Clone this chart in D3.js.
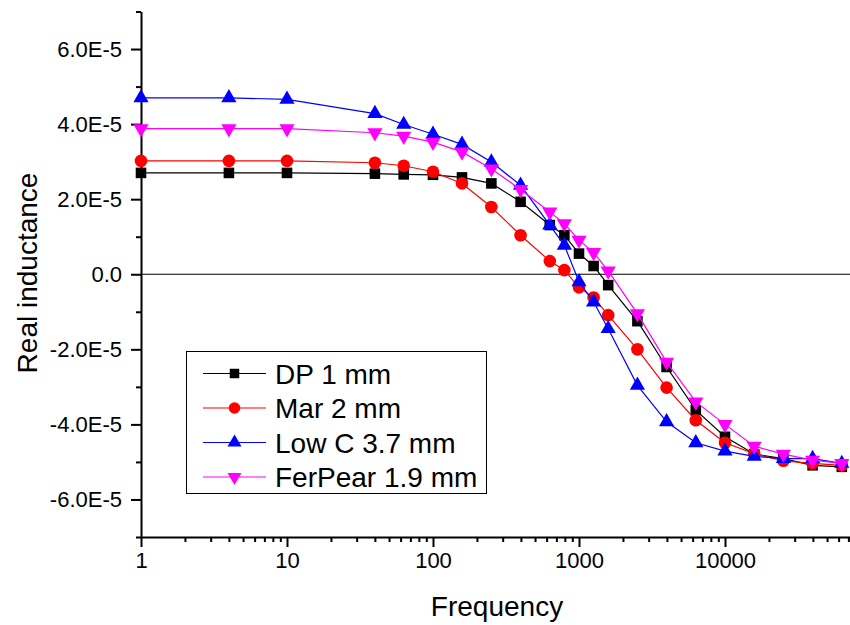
<!DOCTYPE html>
<html lang="en">

<head>
    <title>Real inductance vs frequency</title>
    <meta charset="UTF-8">
    <script src="https://d3js.org/d3.v7.min.js"></script>
    <style>
        body {
            margin: 0;
            padding: 0;
            background: #fff;
        }

        svg {
            display: block;
            font-family: Arial, 'Liberation Sans', sans-serif;
        }

        .axis path,
        .axis line {
            fill: none;
            stroke: #000;
            stroke-width: 2px;
        }

        .axis text {
            font-size: 22px;
            fill: #000;
        }

        .title {
            font-size: 28px;
        }

        .legend text {
            font-size: 28px;
        }
    </style>
</head>

<body>
    <svg id="chart" width="850" height="625"></svg>
    <script>
        // frequency of each measured point
        var freq = [1, 4, 10, 40, 63, 100, 158, 251, 398, 631, 794, 1000, 1259, 1585,
            2512, 3981, 6310, 10000, 15849, 25119, 39811, 63096];

        // real inductance, units of 1E-5
        var dp1 = [2.70, 2.70, 2.70, 2.68, 2.66, 2.65, 2.58, 2.42, 1.93, 1.31, 1.04, 0.55,
            0.22, -0.29, -1.25, -2.47, -3.62, -4.33, -4.79, -4.91, -5.09, -5.13];
        var mar2 = [3.02, 3.02, 3.02, 2.97, 2.89, 2.73, 2.42, 1.79, 1.04, 0.35, 0.11, -0.35,
            -0.62, -1.09, -2.00, -3.02, -3.89, -4.49, -4.78, -4.97, -5.04, -5.09];
        var lowC = [4.70, 4.70, 4.66, 4.28, 3.99, 3.73, 3.46, 2.99, 2.37, 1.31, 0.77, -0.20,
            -0.74, -1.45, -2.96, -3.93, -4.49, -4.71, -4.85, -4.91, -4.91, -5.04];
        var ferPear = [3.88, 3.88, 3.88, 3.77, 3.68, 3.52, 3.26, 2.81, 2.26, 1.66, 1.35, 0.91,
            0.58, 0.09, -1.05, -2.34, -3.40, -4.00, -4.58, -4.79, -4.95, -5.04];

        var seriesNames = ["DP 1 mm", "Mar 2 mm", "Low C 3.7 mm", "FerPear 1.9 mm"];
        var seriesValues = [dp1, mar2, lowC, ferPear];
        var seriesColors = ["#000000", "#ff0000", "#0000ff", "#ff00ff"];

        var xTicks = [1, 10, 100, 1000, 10000];
        var xTickLabels = ["1", "10", "100", "1000", "10000"];
        var yTicks = [-6e-5, -4e-5, -2e-5, 0, 2e-5, 4e-5, 6e-5];
        var yTickLabels = ["-6.0E-5", "-4.0E-5", "-2.0E-5", "0.0", "2.0E-5", "4.0E-5", "6.0E-5"];

        var svg = d3.select("#chart");

        var x = d3.scaleLog()
            .domain([1, 1e5])
            .range([141, 871]);

        var y = d3.scaleLinear()
            .domain([-7e-5, 7e-5])
            .range([537, 11.5]);

        var xMinor = [];
        for (var p = 1; p < 1e5; p *= 10) {
            for (var k = 2; k <= 9; k++) xMinor.push(k * p);
        }
        var yMinor = [-7e-5, -5e-5, -3e-5, -1e-5, 1e-5, 3e-5, 5e-5, 7e-5];

        // zero line
        svg.append("line")
            .attr("x1", x(1))
            .attr("x2", 850)
            .attr("y1", y(0))
            .attr("y2", y(0))
            .attr("stroke", "#000")
            .attr("stroke-width", 1.2);

        // minor ticks first, majors on top
        svg.append("g")
            .attr("class", "axis")
            .attr("transform", "translate(0," + y(-7e-5) + ")")
            .call(d3.axisBottom(x).tickValues(xMinor).tickSize(5).tickFormat(""))
            .select(".domain").remove();

        svg.append("g")
            .attr("class", "axis")
            .attr("transform", "translate(" + x(1) + ",0)")
            .call(d3.axisLeft(y).tickValues(yMinor).tickSize(5).tickFormat(""))
            .select(".domain").remove();

        svg.append("g")
            .attr("class", "axis x")
            .attr("transform", "translate(0," + y(-7e-5) + ")")
            .call(d3.axisBottom(x)
                .tickValues(xTicks)
                .tickSize(10)
                .tickSizeOuter(0)
                .tickPadding(5)
                .tickFormat(function(d, i) { return xTickLabels[i]; }));

        svg.append("g")
            .attr("class", "axis y")
            .attr("transform", "translate(" + x(1) + ",0)")
            .call(d3.axisLeft(y)
                .tickValues(yTicks)
                .tickSize(10)
                .tickSizeOuter(0)
                .tickPadding(9)
                .tickFormat(function(d, i) { return yTickLabels[i]; }));

        var line = d3.line()
            .x(function(d) { return x(d[0]); })
            .y(function(d) { return y(d[1] * 1e-5); });

        var symbols = [
            d3.symbol().type(d3.symbolSquare).size(112),
            d3.symbol().type(d3.symbolCircle).size(125),
            d3.symbol().type(d3.symbolTriangle).size(100),
            d3.symbol().type(d3.symbolTriangle).size(100)
        ];
        var legendSymbols = [
            d3.symbol().type(d3.symbolSquare).size(90),
            d3.symbol().type(d3.symbolCircle).size(105),
            d3.symbol().type(d3.symbolTriangle).size(85),
            d3.symbol().type(d3.symbolTriangle).size(85)
        ];
        var rotations = [0, 0, 0, 180];

        seriesValues.forEach(function(vals, s) {
            var pts = freq.map(function(f, i) { return [f, vals[i]]; });
            var g = svg.append("g");

            g.append("path")
                .datum(pts)
                .attr("fill", "none")
                .attr("stroke", seriesColors[s])
                .attr("stroke-width", 1.2)
                .attr("d", line);

            g.selectAll("path.pt")
                .data(pts)
                .enter().append("path")
                .attr("class", "pt")
                .attr("d", symbols[s])
                .attr("fill", seriesColors[s])
                .attr("transform", function(d) {
                    return "translate(" + x(d[0]) + "," + y(d[1] * 1e-5) + ") rotate(" + rotations[s] + ")";
                });
        });

        // axis titles
        svg.append("text")
            .attr("class", "title")
            .attr("x", 497)
            .attr("y", 616)
            .attr("text-anchor", "middle")
            .text("Frequency");

        svg.append("text")
            .attr("class", "title")
            .attr("transform", "translate(37,273) rotate(-90)")
            .attr("text-anchor", "middle")
            .text("Real inductance");

        // legend
        var legend = svg.append("g").attr("class", "legend");

        legend.append("rect")
            .attr("x", 186.5)
            .attr("y", 351.5)
            .attr("width", 300)
            .attr("height", 142)
            .attr("fill", "#fff")
            .attr("stroke", "#000")
            .attr("stroke-width", 1);

        seriesNames.forEach(function(name, s) {
            var cy = 373.5 + s * 34.5;
            legend.append("line")
                .attr("x1", 203)
                .attr("x2", 266)
                .attr("y1", cy)
                .attr("y2", cy)
                .attr("stroke", seriesColors[s])
                .attr("stroke-width", 1.2);
            legend.append("path")
                .attr("d", legendSymbols[s])
                .attr("fill", seriesColors[s])
                .attr("transform", "translate(234.5," + cy + ") rotate(" + rotations[s] + ")");
            legend.append("text")
                .attr("x", 275)
                .attr("y", cy + 10)
                .text(name);
        });
    </script>
</body>

</html>
